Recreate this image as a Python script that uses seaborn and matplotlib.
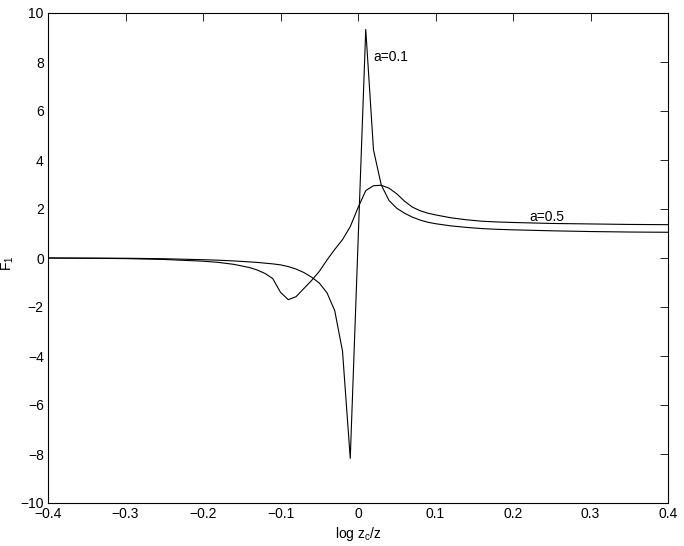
import matplotlib
matplotlib.use("Agg")
import matplotlib.pyplot as plt
import seaborn as sns
import pandas as pd

# x sample positions (log zc/z)
x_vals = [-0.40, -0.35, -0.30, -0.25, -0.20, -0.18, -0.16, -0.14, -0.13, -0.12,
          -0.11, -0.10, -0.09, -0.08, -0.07, -0.06, -0.05, -0.04, -0.03, -0.02,
          -0.01, 0.00, 0.01, 0.02, 0.03, 0.04, 0.05, 0.06, 0.07, 0.08,
          0.09, 0.10, 0.12, 0.14, 0.16, 0.18, 0.20, 0.25, 0.30, 0.35, 0.40]

# F1 for a = 0.1
f_a01 = [0.00, -0.005, -0.01, -0.03, -0.07, -0.09, -0.12, -0.16, -0.18, -0.21,
         -0.24, -0.28, -0.35, -0.45, -0.59, -0.78, -1.02, -1.42, -2.15, -3.80,
         -8.18, 0.58, 9.33, 4.41, 2.98, 2.35, 2.03, 1.83, 1.67, 1.55,
         1.46, 1.40, 1.31, 1.25, 1.20, 1.17, 1.15, 1.11, 1.08, 1.06, 1.05]

# F1 for a = 0.5
f_a05 = [0.00, -0.01, -0.025, -0.06, -0.13, -0.18, -0.26, -0.39, -0.49, -0.63,
         -0.84, -1.40, -1.70, -1.58, -1.25, -0.92, -0.55, -0.08, 0.35, 0.75,
         1.28, 2.05, 2.75, 2.95, 2.97, 2.85, 2.62, 2.32, 2.08, 1.93,
         1.83, 1.76, 1.64, 1.56, 1.50, 1.47, 1.45, 1.41, 1.39, 1.37, 1.36]

x_ticks = [-0.4, -0.3, -0.2, -0.1, 0, 0.1, 0.2, 0.3, 0.4]
x_ticklabels = ["\u22120.4", "\u22120.3", "\u22120.2", "\u22120.1", "0", "0.1", "0.2", "0.3", "0.4"]
y_ticks = [-10, -8, -6, -4, -2, 0, 2, 4, 6, 8, 10]
y_ticklabels = ["\u221210", "\u22128", "\u22126", "\u22124", "\u22122", "0", "2", "4", "6", "8", "10"]

sns.set_theme(style="white")
plt.rcParams['font.family'] = ['Liberation Sans', 'DejaVu Sans']
plt.rcParams['mathtext.fontset'] = 'custom'
plt.rcParams['mathtext.rm'] = 'Liberation Sans'

df = pd.DataFrame({
    "x": x_vals + x_vals,
    "F": f_a01 + f_a05,
    "a": ["0.1"] * len(x_vals) + ["0.5"] * len(x_vals),
})

fig = plt.figure(figsize=(6.84, 5.46), dpi=100)
ax = fig.add_axes([48 / 684, 1 - 503 / 546, 620 / 684, 490 / 546])

sns.lineplot(data=df, x="x", y="F", units="a", estimator=None, sort=False,
             color="black", linewidth=0.8, ax=ax, legend=False)

ax.set_xlim(-0.4, 0.4)
ax.set_ylim(-10, 10)
ax.set_xticks(x_ticks)
ax.set_xticklabels(x_ticklabels)
ax.set_yticks(y_ticks)
ax.set_yticklabels(y_ticklabels)
ax.tick_params(direction="in", length=6, width=0.6, colors="black",
               top=True, right=True, labelsize=10, pad=3)
for s in ax.spines.values():
    s.set_color("black")
    s.set_linewidth(0.8)

ax.set_xlabel(r"log z$_{\mathregular{c}}$/z", fontsize=10, color="black", labelpad=3)
ax.set_ylabel(r"F$_{\mathregular{1}}$", fontsize=10, color="black")
ax.yaxis.set_label_coords(-0.052, 0.49)

ax.text(0.0194, 8.2, "a=0.1", ha="left", va="center", fontsize=10, color="black")
ax.text(0.2206, 1.67, "a=0.5", ha="left", va="center", fontsize=10, color="black")

fig.savefig("out.png", dpi=100)
